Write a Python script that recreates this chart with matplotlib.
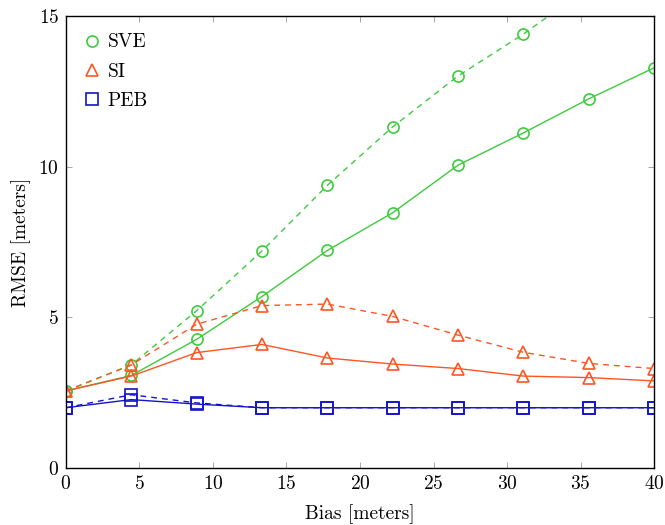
import numpy as np
import matplotlib
matplotlib.use('Agg')
import matplotlib.pyplot as plt
from matplotlib.lines import Line2D

plt.rcParams['font.family'] = 'cmr10'
plt.rcParams['mathtext.fontset'] = 'cm'
plt.rcParams['axes.formatter.use_mathtext'] = True

# Bias values (x)
bias = [0, 4.44, 8.89, 13.33, 17.78, 22.22, 26.67, 31.11, 35.56, 40]

# RMSE, solid and dashed series
sve_solid = [2.56, 3.07, 4.27, 5.69, 7.22, 8.47, 10.05, 11.12, 12.25, 13.28]
sve_dash = [2.56, 3.42, 5.22, 7.20, 9.38, 11.32, 13.01, 14.40, 15.95, 17.4]
si_solid = [2.56, 3.05, 3.83, 4.10, 3.65, 3.45, 3.30, 3.05, 3.00, 2.89]
si_dash = [2.56, 3.42, 4.77, 5.39, 5.44, 5.03, 4.41, 3.84, 3.47, 3.30]
peb_solid = [2.0, 2.27, 2.12, 2.0, 2.0, 2.0, 2.0, 2.0, 2.0, 2.0]
peb_dash = [2.0, 2.43, 2.16, 2.0, 2.0, 2.0, 2.0, 2.0, 2.0, 2.0]

green = '#3dcc3d'
orange = '#ff5522'
blue = '#1414cc'
dash = (0, (4.2, 3.6))
fs = 14

fig = plt.figure(figsize=(6.65, 5.25), dpi=100)
ax = fig.add_axes([0.0992, 0.1086, 0.8843, 0.8609])

mk = dict(mfc='none', markersize=8.0, mew=1.2, lw=1.0)
ax.plot(bias, sve_solid, color=green, marker='o', **mk)
ax.plot(bias, sve_dash, color=green, marker='o', ls=dash, **mk)
ax.plot(bias, si_solid, color=orange, marker='^', **mk)
ax.plot(bias, si_dash, color=orange, marker='^', ls=dash, **mk)
ax.plot(bias, peb_solid, color=blue, marker='s', **mk)
ax.plot(bias, peb_dash, color=blue, marker='s', ls=dash, **mk)

ax.set_xlim(0, 40)
ax.set_ylim(0, 15)
ax.set_xticks(np.arange(0, 41, 5))
ax.set_yticks([0, 5, 10, 15])
ax.tick_params(direction='in', top=True, right=True, length=4.5, width=0.6,
               color='#999999', labelsize=fs, pad=5)
for s in ax.spines.values():
    s.set_linewidth(1.0)

ax.set_xlabel('Bias [meters]', fontsize=fs, labelpad=8)
ax.set_ylabel('RMSE [meters]', fontsize=fs, labelpad=5)

handles = [Line2D([], [], color=c, marker=m, ls='none', mfc='none', markersize=8.0, mew=1.2)
           for c, m in [(green, 'o'), (orange, '^'), (blue, 's')]]
ax.legend(handles, ['SVE', 'SI', 'PEB'], loc='upper left', frameon=False,
          fontsize=fs, handlelength=0.9, handletextpad=0.35, labelspacing=0.58,
          borderaxespad=0.5)

fig.savefig('out.png', dpi=100)
